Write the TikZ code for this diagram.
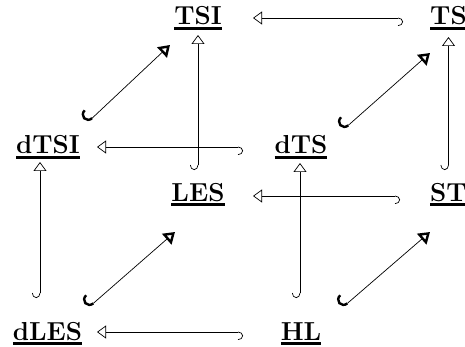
\documentclass[tikz,border=0pt]{standalone}
\usetikzlibrary{arrows.meta,calc}
\newcommand\ulbox[1]{\setbox0=\hbox{#1}\rlap{\rule[-5pt]{\wd0}{2.6pt}}\box0}
\begin{document}
\begin{tikzpicture}[x=1pt,y=-1pt,
  lbl/.style={inner sep=0pt, anchor=base, font=\fontsize{26}{30}\selectfont\bfseries},
  inc/.style={line width=0.7pt, {Hooks[right,length=5pt,width=16pt]}-{Triangle[open,length=9pt,width=13pt]}},
  dinc/.style={line width=0.7pt, {Hooks[right,length=7pt,width=24pt,line width=2.4pt]}-{Triangle[open,length=11pt,width=14pt,line width=2.4pt]}}]
\fill[white] (0,0) rectangle (465,347);
\useasboundingbox (0,0) rectangle (465,347);
\node[lbl] (TSI) at (198,25) {\ulbox{TSI}};
\node[lbl] (TS) at (448.5,25) {\ulbox{TS}};
\node[lbl] (dTSI) at (48,154) {\ulbox{dTSI}};
\node[lbl] (dTS) at (301,154) {\ulbox{dTS}};
\node[lbl] (LES) at (198,201) {\ulbox{LES}};
\node[lbl] (ST) at (448.5,201) {\ulbox{ST}};
\node[lbl] (dLES) at (47.5,340) {\ulbox{dLES}};
\node[lbl] (HL) at (301,340) {\ulbox{HL}};
% horizontal
\draw[inc] ($(TS.base)+(-45.5,-7)$) -- ($(TSI.base)+(55,-7)$);
\draw[inc] ($(dTS.base)+(-58,-7)$) -- ($(dTSI.base)+(49,-7)$);
\draw[inc] ($(ST.base)+(-48.5,-5)$) -- ($(LES.base)+(55,-5)$);
\draw[inc] ($(HL.base)+(-58,-8)$) -- ($(dLES.base)+(49.5,-8)$);
% vertical
\draw[inc] ($(LES.base)+(0,-31)$) -- ($(TSI.base)+(0,10)$);
\draw[inc] ($(ST.base)+(0,-31)$) -- ($(TS.base)+(0,12)$);
\draw[inc] ($(dLES.base)+(-7.5,-42)$) -- ($(dTSI.base)+(-8,8)$);
\draw[inc] ($(HL.base)+(-1,-42)$) -- ($(dTS.base)+(-1,9)$);
% diagonal
\draw[dinc] ($(dTSI.base)+(39,-31)$) -- ($(TSI.base)+(-28,20)$);
\draw[dinc] ($(dTS.base)+(42,-24)$) -- ($(TS.base)+(-18.5,28)$);
\draw[dinc] ($(dLES.base)+(40.5,-32)$) -- ($(LES.base)+(-23,31)$);
\draw[dinc] ($(HL.base)+(41,-32)$) -- ($(ST.base)+(-18.5,31)$);
\end{tikzpicture}
\end{document}
